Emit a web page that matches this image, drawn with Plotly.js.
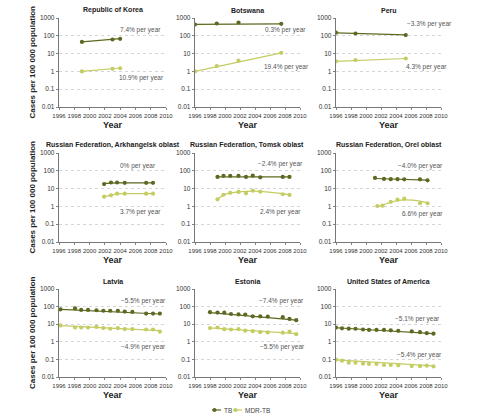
<!DOCTYPE html>
<html><head><meta charset="utf-8">
<script src="https://cdn.plot.ly/plotly-3.0.1.min.js"></script>
<style>html,body{margin:0;padding:0;background:#fff}</style>
</head><body><div id="chart" style="width:485px;height:420px"></div>
<script>
// ---------- DATA ----------
const panelTitles = ['Republic of Korea','Botswana','Peru','Russian Federation, Arkhangelsk oblast','Russian Federation, Tomsk oblast','Russian Federation, Orel oblast','Latvia','Estonia','United States of America'];
const xTickVals = [1996,1998,2000,2002,2004,2006,2008,2010];
const yTickVals = [0.01,0.1,1,10,100,1000];
const yTickText = ['0.01','0.1','1','10','100','1000'];

// Republic of Korea
const korYears = [1999, 2003, 2004];
const korTB = [45, 62, 68];
const korMDR = [1.0, 1.4, 1.5];
const korTrendYears = [1999, 2004];
const korTrendTB = [45, 70];
const korTrendMDR = [1.0, 1.55];
const korRates = ['7.4% per year', '10.9% per year'];

// Botswana
const botYears = [1996, 1998.9, 2001.8, 2007.5];
const botTB = [430, 490, 560, 470];
const botMDR = [1.0, 2.0, 4.0, 11];
const botTrendYears = [1996, 2007.5];
const botTrendTB = [440, 470];
const botTrendMDR = [1.0, 11];
const botRates = ['0.3% per year', '19.4% per year'];

// Peru
const perYears = [1996, 1998.6, 2005.3];
const perTB = [150, 135, 110];
const perMDR = [3.7, 4.3, 5.3];
const perTrendYears = [1996, 2005.3];
const perTrendTB = [145, 112];
const perTrendMDR = [3.7, 5.3];
const perRates = ['\u22123.3% per year', '4.3% per year'];

// Arkhangelsk
const arkYears = [2001.9, 2002.8, 2003.6, 2004.6, 2007.4, 2008.3];
const arkTB = [18, 22, 22, 21, 21, 21];
const arkMDR = [3.5, 4.2, 5.2, 5.2, 5.2, 5.2];
const arkTrendYears = [2001.9, 2002.8, 2003.6, 2004.6, 2007.4, 2008.3];
const arkTrendTB = [19.5, 20.5, 21, 21, 21, 21];
const arkTrendMDR = [3.5, 4.3, 5.0, 5.2, 5.2, 5.2];
const arkRates = ['0% per year', '3.7% per year'];

// Tomsk
const tomYears = [1999, 1999.8, 2000.7, 2001.8, 2002.8, 2003.7, 2004.7, 2007.7, 2008.6];
const tomTB = [45, 52, 52, 52, 45, 53, 43, 45, 45];
const tomMDR = [2.5, 4.5, 5.8, 6.5, 5.4, 7.6, 6.7, 4.8, 4.4];
const tomTrendYears = [1999, 1999.8, 2000.7, 2001.8, 2002.8, 2003.7, 2004.7, 2007.7, 2008.6];
const tomTrendTB = [46, 46, 46, 46, 46, 46, 46, 46, 46];
const tomTrendMDR = [2.5, 4.3, 5.7, 6.5, 7.0, 7.2, 7.0, 5.2, 4.5];
const tomRates = ['\u22122.4% per year', '2.4% per year'];

// Orel
const oreTBYears = [2001.2, 2002.4, 2003.3, 2004.2, 2005.1, 2007.2, 2008.2];
const oreTB = [40, 35, 34, 34, 33, 33, 29];
const oreMDRYears = [2001.5, 2002.2, 2003.3, 2004.2, 2005.1, 2007.2, 2008.2];
const oreMDR = [1.05, 1.1, 1.8, 2.4, 2.7, 1.5, 1.5];
const oreTrendTBYears = [2001.2, 2008.2];
const oreTrendTB = [37, 30];
const oreTrendMDRYears = [2001.5, 2002.2, 2003.3, 2004.2, 2005.1, 2007.2, 2008.2];
const oreTrendMDR = [0.95, 1.2, 1.7, 2.1, 2.3, 2.0, 1.6];
const oreRates = ['\u22124.0% per year', '6.6% per year'];

// Latvia
const latYears = [1996.2, 1998.1, 1998.9, 1999.8, 2000.9, 2001.8, 2002.7, 2003.7, 2004.6, 2005.6, 2007.4, 2008.3, 2009.2];
const latTB = [70, 80, 65, 65, 62, 58, 58, 58, 52, 50, 40, 40, 40];
const latMDR = [8.5, 6.5, 6.5, 6.5, 7, 6, 5.5, 6, 5.3, 5.3, 5, 5, 3.8];
const latTrendYears = [1996.2, 2009.2];
const latTrendTB = [70, 38];
const latTrendMDR = [8.3, 4.3];
const latRates = ['\u22125.5% per year', '\u22124.9% per year'];

// Estonia
const estYears = [1998.0, 1999.0, 1999.9, 2000.8, 2001.8, 2002.7, 2003.7, 2004.7, 2005.7, 2007.7, 2008.6, 2009.5];
const estTB = [48, 46, 45, 38, 36, 35, 28, 28, 27, 25, 20, 17];
const estMDR = [6, 6.5, 5.2, 5, 5.3, 4.3, 4, 3.5, 3.4, 3.3, 3.8, 2.7];
const estTrendYears = [1998.0, 2009.5];
const estTrendTB = [45, 17];
const estTrendMDR = [6.2, 2.9];
const estRates = ['\u22127.4% per year', '\u22125.5% per year'];

// United States of America
const usaYears = [1996, 1996.8, 1997.7, 1998.6, 1999.6, 2000.4, 2001.4, 2002.4, 2003.3, 2004.3, 2006.1, 2007.2, 2008.1, 2009.0];
const usaTB = [6.4, 5.8, 5.6, 5.5, 5.0, 4.7, 4.7, 4.7, 4.5, 4.2, 3.9, 3.5, 3.1, 2.9];
const usaMDR = [0.097, 0.085, 0.065, 0.065, 0.058, 0.055, 0.055, 0.048, 0.048, 0.046, 0.042, 0.041, 0.044, 0.040];
const usaTrendYears = [1996, 2009.0];
const usaTrendTB = [6.3, 2.9];
const usaTrendMDR = [0.095, 0.043];
const usaRates = ['\u22125.1% per year', '\u22125.4% per year'];

const legendNames = ['TB', 'MDR-TB'];

// ---------- STYLE / LAYOUT ----------
const W = 485, H = 420;
const FONT = 'Liberation Sans, Arial, sans-serif';
const TB_COL = '#5b6a20';
const MDR_COL = '#c4cc62';
const colPx = [[59,166],[195,300],[336,441]];
const rowPx = [[18,107],[153,242],[289,377]];

// label positions (year, value) per panel: [tbLabel, mdrLabel]
const labelPos = [
  [[2006.6,215],[2006.8,0.45]],
  [[2008.0,215],[2008.2,1.8]],
  [[2008.5,480],[2008.1,1.8]],
  [[2006.4,178],[2006.6,0.5]],
  [[2007.4,235],[2007.4,0.47]],
  [[2007.2,190],[2007.5,0.37]],
  [[2007.0,215],[2007.0,0.48]],
  [[2007.5,215],[2007.6,0.5]],
  [[2006.8,21],[2007.1,0.17]]
];

const panels = [
  {tx:korYears, tb:korTB, mx:korYears, mdr:korMDR, ttx:korTrendYears, ttb:korTrendTB, tmx:korTrendYears, tmdr:korTrendMDR, rates:korRates},
  {tx:botYears, tb:botTB, mx:botYears, mdr:botMDR, ttx:botTrendYears, ttb:botTrendTB, tmx:botTrendYears, tmdr:botTrendMDR, rates:botRates},
  {tx:perYears, tb:perTB, mx:perYears, mdr:perMDR, ttx:perTrendYears, ttb:perTrendTB, tmx:perTrendYears, tmdr:perTrendMDR, rates:perRates},
  {tx:arkYears, tb:arkTB, mx:arkYears, mdr:arkMDR, ttx:arkTrendYears, ttb:arkTrendTB, tmx:arkTrendYears, tmdr:arkTrendMDR, rates:arkRates},
  {tx:tomYears, tb:tomTB, mx:tomYears, mdr:tomMDR, ttx:tomTrendYears, ttb:tomTrendTB, tmx:tomTrendYears, tmdr:tomTrendMDR, rates:tomRates},
  {tx:oreTBYears, tb:oreTB, mx:oreMDRYears, mdr:oreMDR, ttx:oreTrendTBYears, ttb:oreTrendTB, tmx:oreTrendMDRYears, tmdr:oreTrendMDR, rates:oreRates},
  {tx:latYears, tb:latTB, mx:latYears, mdr:latMDR, ttx:latTrendYears, ttb:latTrendTB, tmx:latTrendYears, tmdr:latTrendMDR, rates:latRates},
  {tx:estYears, tb:estTB, mx:estYears, mdr:estMDR, ttx:estTrendYears, ttb:estTrendTB, tmx:estTrendYears, tmdr:estTrendMDR, rates:estRates},
  {tx:usaYears, tb:usaTB, mx:usaYears, mdr:usaMDR, ttx:usaTrendYears, ttb:usaTrendTB, tmx:usaTrendYears, tmdr:usaTrendMDR, rates:usaRates}
];

const traces = [];
const layout = {
  width: W, height: H,
  margin: {l:0, r:0, t:0, b:0},
  paper_bgcolor: '#fff', plot_bgcolor: '#fff',
  showlegend: false,
  annotations: [], shapes: [],
  font: {family: FONT}
};

panels.forEach((p, i) => {
  const r = Math.floor(i/3), c = i%3;
  const n = i+1;
  const xa = 'x' + (n===1?'':n), ya = 'y' + (n===1?'':n);
  const xk = 'xaxis' + (n===1?'':n), yk = 'yaxis' + (n===1?'':n);
  layout[xk] = {
    domain: [colPx[c][0]/W, colPx[c][1]/W], anchor: ya,
    range: [1996, 2010], tickvals: xTickVals, ticks: 'outside', ticklen: 2.5, tickwidth: 0.8,
    tickcolor: '#666', showline: true, linecolor: '#555', linewidth: 0.8,
    showgrid: false, zeroline: false, tickangle: 0, automargin: false,
    tickfont: {family: FONT, size: 6, color: '#333'},
    title: {text: '<b>Year</b>', font: {family: FONT, size: 9, color: '#222'}, standoff: 4}
  };
  layout[yk] = {
    domain: [1-rowPx[r][1]/H, 1-rowPx[r][0]/H], anchor: xa,
    type: 'log', range: [-2, 3], tickvals: yTickVals, ticktext: yTickText,
    ticks: 'outside', ticklen: 2.5, tickwidth: 0.8, tickcolor: '#666', automargin: false,
    showline: true, linecolor: '#555', linewidth: 0.8,
    showgrid: true, gridcolor: '#cccccc', griddash: 'dot', gridwidth: 0.8, zeroline: false,
    tickfont: {family: FONT, size: 6.5, color: '#333'}
  };
  // trend lines
  traces.push({x:p.ttx, y:p.ttb, xaxis:xa, yaxis:ya, mode:'lines', line:{color:TB_COL, width:1.2, shape:'spline', smoothing:1}, hoverinfo:'skip'});
  traces.push({x:p.tmx, y:p.tmdr, xaxis:xa, yaxis:ya, mode:'lines', line:{color:MDR_COL, width:1.2, shape:'spline', smoothing:1}, hoverinfo:'skip'});
  // data markers
  traces.push({x:p.tx, y:p.tb, xaxis:xa, yaxis:ya, mode:'markers', marker:{color:TB_COL, size:4.2, symbol:'circle'}});
  traces.push({x:p.mx, y:p.mdr, xaxis:xa, yaxis:ya, mode:'markers', marker:{color:MDR_COL, size:4.2, symbol:'circle'}});
  // panel title
  layout.annotations.push({text:'<b>'+panelTitles[i]+'</b>', xref:'paper', yref:'paper',
    x:(colPx[c][0]+colPx[c][1])/2/W, y:1-(rowPx[r][0]-8)/H, xanchor:'center', yanchor:'middle',
    showarrow:false, font:{family:FONT, size:7, color:'#222'}});
  // rate labels
  [0,1].forEach(k => {
    layout.annotations.push({text:p.rates[k], xref:xa, yref:ya, x:labelPos[i][k][0], y:Math.log10(labelPos[i][k][1]),
      xanchor:'center', yanchor:'middle', showarrow:false, font:{family:FONT, size:6.5, color:'#555'}});
  });
  // y title (left column)
  if (c === 0) {
    layout.annotations.push({text:'<b>Cases per 100 000 population</b>', xref:'paper', yref:'paper',
      x:32/W, y:1-(rowPx[r][0]+rowPx[r][1])/2/H, xanchor:'center', yanchor:'middle', textangle:-90,
      showarrow:false, font:{family:FONT, size:8, color:'#222'}});
  }
});

// manual legend (line + dot + label)
const legItems = [{name:legendNames[0], col:TB_COL, x0:212}, {name:legendNames[1], col:MDR_COL, x0:233}];
const legY = 1 - 410/H;
legItems.forEach(it => {
  layout.shapes.push({type:'line', xref:'paper', yref:'paper', x0:it.x0/W, x1:(it.x0+9)/W, y0:legY, y1:legY, line:{color:it.col, width:1.2}});
  layout.shapes.push({type:'circle', xref:'paper', yref:'paper', x0:(it.x0+0.5)/W, x1:(it.x0+4.5)/W, y0:legY-2/H, y1:legY+2/H, fillcolor:it.col, line:{color:it.col, width:0}});
  layout.annotations.push({text:it.name, xref:'paper', yref:'paper', x:(it.x0+10)/W, y:legY, xanchor:'left', yanchor:'middle', showarrow:false, font:{family:FONT, size:6.5, color:'#444'}});
});

Plotly.newPlot('chart', traces, layout, {displayModeBar:false, staticPlot:true});
</script></body></html>
